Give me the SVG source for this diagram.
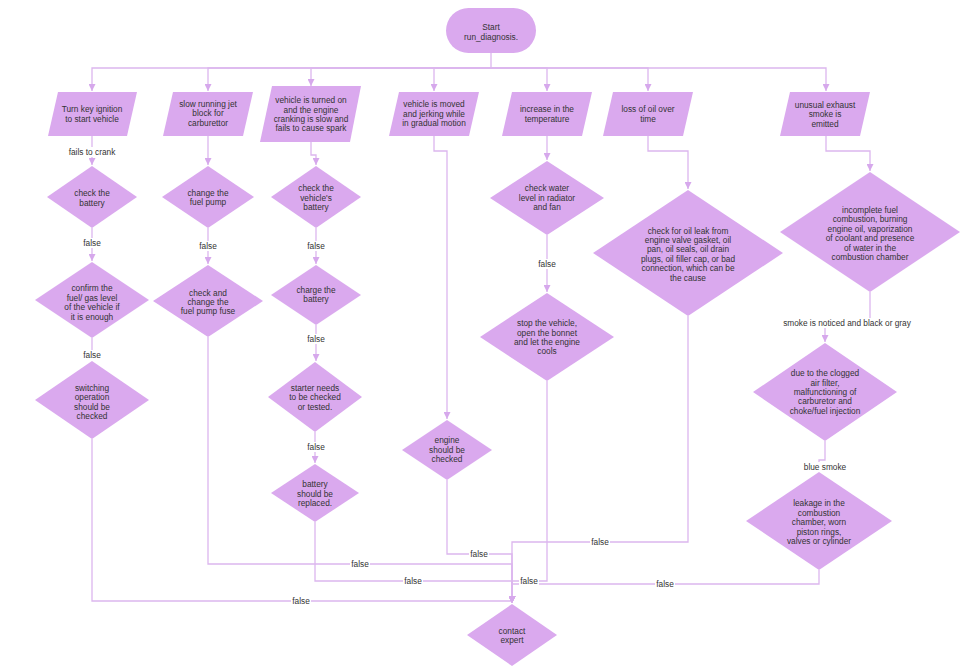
<svg xmlns="http://www.w3.org/2000/svg" width="965" height="671" viewBox="0 0 965 671">
  <style>
    .node { fill: #daa9ee; stroke: none; }
    .edge { fill: none; stroke: #dcb6ee; stroke-width: 1.3; }
    .lbl { font-family: "Liberation Sans", Arial, sans-serif; font-size: 8.3px; fill: #333; text-anchor: middle; }
    .elbg { fill: #ffffff; }
  </style>
  <defs>
    <marker id="arrow" viewBox="0 0 10 10" refX="10" refY="5" markerWidth="7" markerHeight="7" markerUnits="userSpaceOnUse" orient="auto">
      <path d="M0,0 L10,5 L0,10 z" fill="#d6a8ec"/>
    </marker>
  </defs>
  <rect width="965" height="671" fill="#ffffff"/>

  <!-- connectors -->
  <g id="connectors">
    <!-- fan-out from start -->
    <path class="edge" d="M491,53 V68 H92 V91" marker-end="url(#arrow)"/>
    <path class="edge" d="M491,68 H208 V91" marker-end="url(#arrow)"/>
    <path class="edge" d="M491,68 H311 V86" marker-end="url(#arrow)"/>
    <path class="edge" d="M491,68 H434 V91" marker-end="url(#arrow)"/>
    <path class="edge" d="M491,68 H547 V91" marker-end="url(#arrow)"/>
    <path class="edge" d="M491,68 H648 V91" marker-end="url(#arrow)"/>
    <path class="edge" d="M491,68 H826 V91" marker-end="url(#arrow)"/>

    <!-- column 1 -->
    <path class="edge" d="M92,136 V165" marker-end="url(#arrow)"/>
    <path class="edge" d="M92,228 V261" marker-end="url(#arrow)"/>
    <path class="edge" d="M92,338 V360" marker-end="url(#arrow)"/>
    <path class="edge" d="M92,439 V601 H512 V603" marker-end="url(#arrow)"/>

    <!-- column 2 -->
    <path class="edge" d="M208,136 V165" marker-end="url(#arrow)"/>
    <path class="edge" d="M208,228 V264" marker-end="url(#arrow)"/>
    <path class="edge" d="M208,337 V564 H512 V603" marker-end="url(#arrow)"/>

    <!-- column 3 -->
    <path class="edge" d="M311,142 V155 H316 V165" marker-end="url(#arrow)"/>
    <path class="edge" d="M316,228 V264" marker-end="url(#arrow)"/>
    <path class="edge" d="M316,325 V361" marker-end="url(#arrow)"/>
    <path class="edge" d="M315,432 V463" marker-end="url(#arrow)"/>
    <path class="edge" d="M315,522 V581 H512 V603" marker-end="url(#arrow)"/>

    <!-- column 4 -->
    <path class="edge" d="M434,136 V151 H447 V419" marker-end="url(#arrow)"/>
    <path class="edge" d="M447,480 V554 H512 V603" marker-end="url(#arrow)"/>

    <!-- column 5 -->
    <path class="edge" d="M547,136 V160" marker-end="url(#arrow)"/>
    <path class="edge" d="M547,235 V292" marker-end="url(#arrow)"/>
    <path class="edge" d="M547,381 V581 H512 V603" marker-end="url(#arrow)"/>

    <!-- column 6 -->
    <path class="edge" d="M648,136 V151 H688 V189" marker-end="url(#arrow)"/>
    <path class="edge" d="M688,316 V542 H512 V603" marker-end="url(#arrow)"/>

    <!-- column 7 -->
    <path class="edge" d="M826,136 V151 H870 V171" marker-end="url(#arrow)"/>
    <path class="edge" d="M870,292 V323 H825 V342" marker-end="url(#arrow)"/>
    <path class="edge" d="M825,441 V460 H819 V471" marker-end="url(#arrow)"/>
    <path class="edge" d="M819,570 V584 H512 V603" marker-end="url(#arrow)"/>

    <!-- edge labels -->
    <g id="edge-labels">
      <rect class="elbg" x="67" y="147" width="50" height="10"/>
      <text class="lbl" x="92" y="155">fails to crank</text>

      <rect class="elbg" x="82" y="238" width="20" height="10"/>
      <text class="lbl" x="92" y="246">false</text>
      <rect class="elbg" x="82" y="350" width="20" height="10"/>
      <text class="lbl" x="92" y="358">false</text>

      <rect class="elbg" x="198" y="241" width="20" height="10"/>
      <text class="lbl" x="208" y="249">false</text>

      <rect class="elbg" x="306" y="241" width="20" height="10"/>
      <text class="lbl" x="316" y="249">false</text>
      <rect class="elbg" x="306" y="334" width="20" height="10"/>
      <text class="lbl" x="316" y="342">false</text>
      <rect class="elbg" x="306" y="442" width="20" height="10"/>
      <text class="lbl" x="316" y="450">false</text>

      <rect class="elbg" x="537" y="259" width="20" height="10"/>
      <text class="lbl" x="547" y="267">false</text>

      <rect class="elbg" x="782" y="318" width="130" height="10"/>
      <text class="lbl" x="847" y="326">smoke is noticed and black or gray</text>

      <rect class="elbg" x="801" y="462" width="48" height="10"/>
      <text class="lbl" x="825" y="470">blue smoke</text>

      <rect class="elbg" x="291" y="596" width="20" height="10"/>
      <text class="lbl" x="301" y="604">false</text>
      <rect class="elbg" x="350" y="559" width="20" height="10"/>
      <text class="lbl" x="360" y="567">false</text>
      <rect class="elbg" x="403" y="576" width="20" height="10"/>
      <text class="lbl" x="413" y="584">false</text>
      <rect class="elbg" x="469" y="549" width="20" height="10"/>
      <text class="lbl" x="479" y="557">false</text>
      <rect class="elbg" x="519" y="576" width="20" height="10"/>
      <text class="lbl" x="529" y="584">false</text>
      <rect class="elbg" x="590" y="537" width="20" height="10"/>
      <text class="lbl" x="600" y="545">false</text>
      <rect class="elbg" x="655" y="579" width="20" height="10"/>
      <text class="lbl" x="665" y="587">false</text>
    </g>
  </g>

  <!-- start -->
  <g id="start">
    <rect class="node" x="446" y="8" width="90" height="45" rx="22.5" ry="22.5"/>
    <text class="lbl" x="491" y="30">Start</text>
    <text class="lbl" x="491" y="40">run_diagnosis.</text>
  </g>

  <!-- symptom inputs -->
  <g id="in_ignition">
    <polygon class="node" points="58,92 137,92 127,136 48,136"/>
    <text class="lbl" x="92" y="112">Turn key ignition</text>
    <text class="lbl" x="92" y="122">to start vehicle</text>
  </g>
  <g id="in_jet">
    <polygon class="node" points="173,92 253,92 243,136 163,136"/>
    <text class="lbl" x="208" y="107">slow running jet</text>
    <text class="lbl" x="208" y="116">block for</text>
    <text class="lbl" x="208" y="126">carburettor</text>
  </g>
  <g id="in_cranking">
    <polygon class="node" points="272,86 361,86 350,142 260,142"/>
    <text class="lbl" x="311" y="103">vehicle is turned on</text>
    <text class="lbl" x="311" y="113">and the engine</text>
    <text class="lbl" x="311" y="122">cranking is slow and</text>
    <text class="lbl" x="311" y="131">fails to cause spark</text>
  </g>
  <g id="in_jerking">
    <polygon class="node" points="399,92 479,92 469,136 389,136"/>
    <text class="lbl" x="434" y="107">vehicle is moved</text>
    <text class="lbl" x="434" y="117">and jerking while</text>
    <text class="lbl" x="434" y="126">in gradual motion</text>
  </g>
  <g id="in_temperature">
    <polygon class="node" points="512,92 592,92 582,136 502,136"/>
    <text class="lbl" x="547" y="112">increase in the</text>
    <text class="lbl" x="547" y="122">temperature</text>
  </g>
  <g id="in_oil">
    <polygon class="node" points="613,92 693,92 683,136 603,136"/>
    <text class="lbl" x="648" y="112">loss of oil over</text>
    <text class="lbl" x="648" y="122">time</text>
  </g>
  <g id="in_smoke">
    <polygon class="node" points="790,92 870,92 860,136 780,136"/>
    <text class="lbl" x="825" y="108">unusual exhaust</text>
    <text class="lbl" x="825" y="117">smoke is</text>
    <text class="lbl" x="825" y="127">emitted</text>
  </g>

  <!-- column 1 checks -->
  <g id="d_battery">
    <polygon class="node" points="92,166 137,197 92,228 47,197"/>
    <text class="lbl" x="92" y="196">check the</text>
    <text class="lbl" x="92" y="206">battery</text>
  </g>
  <g id="d_fuel_level">
    <polygon class="node" points="92,262 149,300 92,338 35,300"/>
    <text class="lbl" x="92" y="291">confirm the</text>
    <text class="lbl" x="92" y="301">fuel/ gas level</text>
    <text class="lbl" x="92" y="310">of the vehicle if</text>
    <text class="lbl" x="92" y="320">it is enough</text>
  </g>
  <g id="d_switching">
    <polygon class="node" points="92,361 149,400 92,439 35,400"/>
    <text class="lbl" x="92" y="391">switching</text>
    <text class="lbl" x="92" y="400">operation</text>
    <text class="lbl" x="92" y="410">should be</text>
    <text class="lbl" x="92" y="419">checked</text>
  </g>

  <!-- column 2 checks -->
  <g id="d_fuel_pump">
    <polygon class="node" points="208,166 254,197 208,228 162,197"/>
    <text class="lbl" x="208" y="196">change the</text>
    <text class="lbl" x="208" y="205">fuel pump</text>
  </g>
  <g id="d_pump_fuse">
    <polygon class="node" points="208,265 263,301 208,337 153,301"/>
    <text class="lbl" x="208" y="296">check and</text>
    <text class="lbl" x="208" y="305">change the</text>
    <text class="lbl" x="208" y="314">fuel pump fuse</text>
  </g>

  <!-- column 3 checks -->
  <g id="d_vehicle_battery">
    <polygon class="node" points="316,166 361,197 316,228 271,197"/>
    <text class="lbl" x="316" y="191">check the</text>
    <text class="lbl" x="316" y="201">vehicle's</text>
    <text class="lbl" x="316" y="210">battery</text>
  </g>
  <g id="d_charge">
    <polygon class="node" points="316,265 361,295 316,325 271,295"/>
    <text class="lbl" x="316" y="293">charge the</text>
    <text class="lbl" x="316" y="302">battery</text>
  </g>
  <g id="d_starter">
    <polygon class="node" points="315,362 362,397 315,432 268,397"/>
    <text class="lbl" x="315" y="391">starter needs</text>
    <text class="lbl" x="315" y="400">to be checked</text>
    <text class="lbl" x="315" y="410">or tested.</text>
  </g>
  <g id="d_replace">
    <polygon class="node" points="315,464 359,493 315,522 271,493"/>
    <text class="lbl" x="315" y="487">battery</text>
    <text class="lbl" x="315" y="497">should be</text>
    <text class="lbl" x="315" y="506">replaced.</text>
  </g>

  <!-- column 4 -->
  <g id="d_engine">
    <polygon class="node" points="447,420 492,450 447,480 402,450"/>
    <text class="lbl" x="447" y="443">engine</text>
    <text class="lbl" x="447" y="453">should be</text>
    <text class="lbl" x="447" y="462">checked</text>
  </g>

  <!-- column 5 -->
  <g id="d_water">
    <polygon class="node" points="547,161 604,198 547,235 490,198"/>
    <text class="lbl" x="547" y="191">check water</text>
    <text class="lbl" x="547" y="201">level in radiator</text>
    <text class="lbl" x="547" y="210">and fan</text>
  </g>
  <g id="d_stop">
    <polygon class="node" points="547,293 614,337 547,381 480,337"/>
    <text class="lbl" x="547" y="326">stop the vehicle,</text>
    <text class="lbl" x="547" y="336">open the bonnet</text>
    <text class="lbl" x="547" y="345">and let the engine</text>
    <text class="lbl" x="547" y="354">cools</text>
  </g>

  <!-- column 6 -->
  <g id="d_oil_leak">
    <polygon class="node" points="688,190 783,253 688,316 593,253"/>
    <text class="lbl" x="688" y="234">check for oil leak from</text>
    <text class="lbl" x="688" y="243">engine valve gasket, oil</text>
    <text class="lbl" x="688" y="252">pan, oil seals, oil drain</text>
    <text class="lbl" x="688" y="262">plugs, oil filler cap, or bad</text>
    <text class="lbl" x="688" y="271">connection, which can be</text>
    <text class="lbl" x="688" y="281">the cause</text>
  </g>

  <!-- column 7 -->
  <g id="d_incomplete">
    <polygon class="node" points="870,172 960,232 870,292 780,232"/>
    <text class="lbl" x="870" y="213">incomplete fuel</text>
    <text class="lbl" x="870" y="222">combustion, burning</text>
    <text class="lbl" x="870" y="232">engine oil, vaporization</text>
    <text class="lbl" x="870" y="241">of coolant and presence</text>
    <text class="lbl" x="870" y="251">of water in the</text>
    <text class="lbl" x="870" y="260">combustion chamber</text>
  </g>
  <g id="d_clogged">
    <polygon class="node" points="825,343 897,392 825,441 753,392"/>
    <text class="lbl" x="825" y="376">due to the clogged</text>
    <text class="lbl" x="825" y="386">air filter,</text>
    <text class="lbl" x="825" y="395">malfunctioning of</text>
    <text class="lbl" x="825" y="404">carburetor and</text>
    <text class="lbl" x="825" y="414">choke/fuel injection</text>
  </g>
  <g id="d_leakage">
    <polygon class="node" points="819,472 892,521 819,570 746,521"/>
    <text class="lbl" x="819" y="506">leakage in the</text>
    <text class="lbl" x="819" y="516">combustion</text>
    <text class="lbl" x="819" y="525">chamber, worn</text>
    <text class="lbl" x="819" y="535">piston rings,</text>
    <text class="lbl" x="819" y="544">valves or cylinder</text>
  </g>

  <!-- end -->
  <g id="contact_expert">
    <polygon class="node" points="512,604 557,635 512,666 467,635"/>
    <text class="lbl" x="512" y="634">contact</text>
    <text class="lbl" x="512" y="643">expert</text>
  </g>
</svg>
